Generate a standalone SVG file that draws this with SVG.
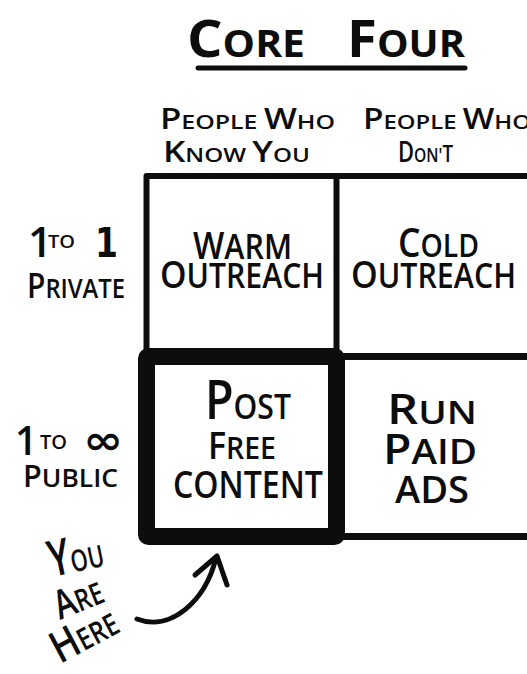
<svg xmlns="http://www.w3.org/2000/svg" width="527" height="674" viewBox="0 0 527 674">
  <style>
    text { font-family: "Open Sans", "Liberation Sans", sans-serif; font-weight: 600; fill: #0d0d0d; }
    .heavy { font-weight: 700; }
    .digit { font-family: "DejaVu Sans", "Open Sans", sans-serif; font-weight: 700; }
    .rule { fill: none; stroke: #0d0d0d; stroke-linecap: round; stroke-linejoin: round; }
  </style>
  <rect width="527" height="674" fill="#ffffff"/>

  <!-- title -->
  <g id="title">
    <text class="heavy" x="187" y="57" font-size="38" textLength="118" lengthAdjust="spacingAndGlyphs"><tspan font-size="52">C</tspan>ORE</text>
    <text class="heavy" x="347" y="57" font-size="38" textLength="118" lengthAdjust="spacingAndGlyphs"><tspan font-size="52">F</tspan>OUR</text>
    <line class="rule" x1="198" y1="68" x2="465" y2="68" stroke-width="5"/>
  </g>

  <!-- column headers -->
  <g id="header-know">
    <text x="160" y="129" font-size="20" textLength="175" lengthAdjust="spacingAndGlyphs"><tspan font-size="28">P</tspan>EOPLE <tspan font-size="28">W</tspan>HO</text>
    <text x="163" y="162" font-size="20" textLength="147" lengthAdjust="spacingAndGlyphs"><tspan font-size="29">K</tspan>NOW <tspan font-size="29">Y</tspan>OU</text>
  </g>
  <g id="header-dont">
    <text x="363" y="129" font-size="20" textLength="168" lengthAdjust="spacingAndGlyphs"><tspan font-size="28">P</tspan>EOPLE <tspan font-size="28">W</tspan>HO</text>
    <text x="398" y="162" font-size="20" textLength="55" lengthAdjust="spacingAndGlyphs"><tspan font-size="28">D</tspan>ON'<tspan font-size="24">T</tspan></text>
  </g>

  <!-- row headers -->
  <g id="row-private">
    <text x="28" y="257" font-size="42">1</text>
    <text x="48" y="248" font-size="18" textLength="27" lengthAdjust="spacingAndGlyphs">TO</text>
    <text class="digit" x="95" y="257" font-size="40" textLength="23" lengthAdjust="spacingAndGlyphs">1</text>
    <text x="27" y="298" font-size="27" textLength="98" lengthAdjust="spacingAndGlyphs"><tspan font-size="34">P</tspan>RIVATE</text>
  </g>
  <g id="row-public">
    <text x="15" y="455" font-size="39">1</text>
    <text x="40" y="449" font-size="19" textLength="27" lengthAdjust="spacingAndGlyphs">TO</text>
    <text class="digit" x="83" y="454" font-size="40" textLength="40" lengthAdjust="spacingAndGlyphs">∞</text>
    <text x="23" y="487" font-size="26" textLength="95" lengthAdjust="spacingAndGlyphs"><tspan font-size="30">P</tspan>UBLIC</text>
  </g>

  <!-- grid lines -->
  <g id="grid">
    <path class="rule" d="M146.5,357 V176 H530" stroke-width="6"/>
    <line class="rule" x1="336.5" y1="176" x2="336.5" y2="357" stroke-width="6"/>
    <line class="rule" x1="337" y1="356.5" x2="530" y2="356.5" stroke-width="7"/>
    <line class="rule" x1="337" y1="536.5" x2="530" y2="536.5" stroke-width="7"/>
  </g>

  <!-- quadrants -->
  <g id="cell-warm-outreach">
    <text x="193" y="259" font-size="35" textLength="99" lengthAdjust="spacingAndGlyphs"><tspan font-size="38">W</tspan>ARM</text>
    <text x="160" y="288" font-size="34" textLength="164" lengthAdjust="spacingAndGlyphs"><tspan font-size="38">O</tspan>UTREACH</text>
  </g>
  <g id="cell-cold-outreach">
    <text x="398" y="257" font-size="32" textLength="81" lengthAdjust="spacingAndGlyphs"><tspan font-size="40">C</tspan>OLD</text>
    <text x="351" y="288" font-size="34" textLength="165" lengthAdjust="spacingAndGlyphs"><tspan font-size="38">O</tspan>UTREACH</text>
  </g>
  <g id="cell-free-content">
    <rect class="rule" x="146.5" y="356.5" width="190" height="180" rx="2" stroke-width="17"/>
    <text x="205" y="419" font-size="35" textLength="86" lengthAdjust="spacingAndGlyphs"><tspan font-size="54">P</tspan>OST</text>
    <text x="208" y="459" font-size="31" textLength="68" lengthAdjust="spacingAndGlyphs"><tspan font-size="37">F</tspan>REE</text>
    <text x="173" y="498" font-size="37" textLength="150" lengthAdjust="spacingAndGlyphs">CONTENT</text>
  </g>
  <g id="cell-paid-ads">
    <text x="387" y="424" font-size="33" textLength="90" lengthAdjust="spacingAndGlyphs"><tspan font-size="42">R</tspan>UN</text>
    <text x="383" y="464" font-size="35" textLength="94" lengthAdjust="spacingAndGlyphs"><tspan font-size="42">P</tspan>AID</text>
    <text x="395" y="503" font-size="38" textLength="74" lengthAdjust="spacingAndGlyphs">ADS</text>
  </g>

  <!-- annotation -->
  <g id="you-are-here">
    <text x="52" y="577" font-size="30" textLength="55" lengthAdjust="spacingAndGlyphs" transform="rotate(-12 52 577)"><tspan font-size="50">Y</tspan>OU</text>
    <text x="60" y="620" font-size="30" textLength="50" lengthAdjust="spacingAndGlyphs" transform="rotate(-22 60 620)"><tspan font-size="40">A</tspan>RE</text>
    <text x="60" y="664" font-size="30" textLength="70" lengthAdjust="spacingAndGlyphs" transform="rotate(-28 60 664)"><tspan font-size="44">H</tspan>ERE</text>
  </g>

  <!-- connectors -->
  <g id="connectors">
    <path class="rule" d="M137,619 C170,632 205,602 216,558" stroke-width="5"/>
    <polyline class="rule" points="195,575 217,556 227,585" stroke-width="5"/>
  </g>
</svg>
